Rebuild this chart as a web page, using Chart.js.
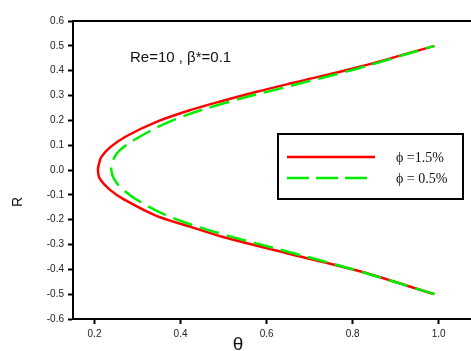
<!DOCTYPE html>
<html>
<head>
<meta charset="utf-8">
<script src="https://cdn.jsdelivr.net/npm/chart.js@4.4.1/dist/chart.umd.min.js"></script>
<style>
  html, body { margin: 0; padding: 0; background: #ffffff; }
  #wrap { width: 471px; height: 351px; }
</style>
</head>
<body>
<div id="wrap"><canvas id="c" width="471" height="351"></canvas></div>
<script>
// ---- data ----
const seriesLabels = ['\u03d5 =1.5%', '\u03d5 = 0.5%'];
const redTheta = [0.99, 0.81, 0.654, 0.499, 0.422, 0.344, 0.27, 0.236, 0.212, 0.208, 0.2105, 0.216, 0.238, 0.275, 0.344, 0.422, 0.499, 0.577, 0.654, 0.81, 0.99];
const redR     = [-0.5, -0.405, -0.338, -0.27, -0.228, -0.185, -0.12, -0.08, -0.034, 0, 0.025, 0.053, 0.094, 0.137, 0.194, 0.241, 0.279, 0.315, 0.348, 0.413, 0.5];
const greenTheta = [0.99, 0.81, 0.654, 0.499, 0.383, 0.305, 0.263, 0.245, 0.239, 0.243, 0.259, 0.305, 0.383, 0.499, 0.654, 0.81, 0.99];
const greenR     = [-0.5, -0.405, -0.331, -0.259, -0.194, -0.127, -0.074, -0.035, 0, 0.04, 0.080, 0.134, 0.201, 0.268, 0.338, 0.408, 0.5];
const xTicks = [0.2, 0.4, 0.6, 0.8, 1.0];
const yTicks = [-0.6, -0.5, -0.4, -0.3, -0.2, -0.1, 0.0, 0.1, 0.2, 0.3, 0.4, 0.5, 0.6];
const annotationText = 'Re=10 , \u03b2*=0.1';
const xTitle = '\u03b8';
const yTitle = 'R';

function pts(xs, ys) { return xs.map((x, i) => ({ x: x, y: ys[i] })); }

const decor = {
  id: 'decor',
  afterDraw(chart) {
    const ctx = chart.ctx;
    const a = chart.chartArea;
    ctx.save();
    // top frame line
    ctx.strokeStyle = '#000';
    ctx.lineWidth = 2;
    ctx.beginPath();
    ctx.moveTo(a.left - 1, a.top);
    ctx.lineTo(471, a.top);
    ctx.stroke();
    // annotation
    ctx.fillStyle = '#111';
    ctx.font = '15px "Liberation Sans", Arial, sans-serif';
    ctx.textBaseline = 'middle';
    ctx.textAlign = 'left';
    ctx.fillText(annotationText, 130, 58);
    // axis titles
    ctx.font = '14px "Liberation Sans", Arial, sans-serif';
    ctx.save();
    ctx.translate(18, 202);
    ctx.rotate(-Math.PI / 2);
    ctx.textAlign = 'center';
    ctx.fillText(yTitle, 0, 0);
    ctx.restore();
    ctx.font = '19px "Liberation Sans", Arial, sans-serif';
    ctx.textAlign = 'center';
    ctx.textBaseline = 'top';
    ctx.fillText(xTitle, 238, 335);
    // legend box
    ctx.lineWidth = 2;
    ctx.strokeStyle = '#000';
    ctx.setLineDash([]);
    ctx.strokeRect(278, 134, 185, 65);
    const ds = chart.data.datasets;
    const rows = [157, 178];
    ds.forEach((d, i) => {
      ctx.strokeStyle = d.borderColor;
      ctx.lineWidth = 2.5;
      ctx.setLineDash(i === 1 ? [22, 7] : []);
      ctx.beginPath();
      ctx.moveTo(287, rows[i]);
      ctx.lineTo(i === 1 ? 367 : 375, rows[i]);
      ctx.stroke();
      ctx.setLineDash([]);
      ctx.fillStyle = '#111';
      ctx.font = '14px "Liberation Serif", "Times New Roman", serif';
      ctx.textAlign = 'left';
      ctx.textBaseline = 'middle';
      ctx.fillText(d.label, 396, rows[i] + 1);
    });
    ctx.restore();
  }
};

new Chart(document.getElementById('c'), {
  type: 'scatter',
  data: {
    datasets: [
      {
        label: seriesLabels[0],
        data: pts(redTheta, redR),
        showLine: true,
        borderColor: '#ff0000',
        backgroundColor: '#ff0000',
        borderWidth: 2.5,
        pointRadius: 0,
        tension: 0.35,
        order: 2
      },
      {
        label: seriesLabels[1],
        data: pts(greenTheta, greenR),
        showLine: true,
        borderColor: '#00ee00',
        backgroundColor: '#00ee00',
        borderWidth: 2.5,
        borderDash: [20, 8],
        pointRadius: 0,
        tension: 0.35,
        order: 1
      }
    ]
  },
  options: {
    responsive: false,
    animation: false,
    devicePixelRatio: 1,
    layout: { padding: { top: 21, right: 0, left: 0, bottom: 0 } },
    plugins: { legend: { display: false }, tooltip: { enabled: false } },
    scales: {
      x: {
        type: 'linear',
        min: 0.15,
        max: 1.075,
        afterBuildTicks(s) { s.ticks = xTicks.map(v => ({ value: v })); },
        afterFit(s) { s.height = 32; },
        ticks: {
          color: '#222',
          font: { family: '"Liberation Sans", Arial, sans-serif', size: 10 },
          padding: 4,
          maxRotation: 0,
          callback: v => v.toFixed(1)
        },
        grid: { display: true, drawOnChartArea: false, drawTicks: true, tickLength: 5, tickColor: '#000', tickWidth: 2 },
        border: { display: true, color: '#000', width: 2 }
      },
      y: {
        type: 'linear',
        min: -0.6,
        max: 0.6,
        afterBuildTicks(s) { s.ticks = yTicks.map(v => ({ value: v })); },
        afterFit(s) { s.width = 73; },
        ticks: {
          color: '#222',
          font: { family: '"Liberation Sans", Arial, sans-serif', size: 10 },
          padding: 4,
          callback: v => v.toFixed(1)
        },
        grid: { display: true, drawOnChartArea: false, drawTicks: true, tickLength: 5, tickColor: '#000', tickWidth: 2 },
        border: { display: true, color: '#000', width: 2 }
      }
    }
  },
  plugins: [decor]
});
</script>
</body>
</html>
